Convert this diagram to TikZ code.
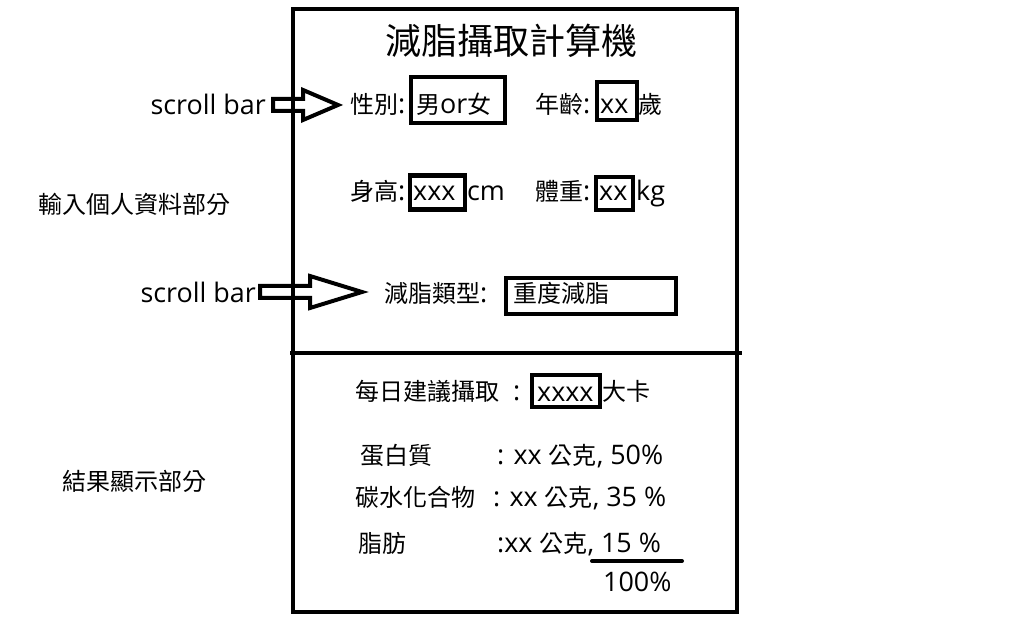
\documentclass[tikz,border=0pt]{standalone}
\usepackage{fontspec}
\setmainfont{Open Sans}[Scale=1.12]
\newfontfamily\cjk{Noto Sans CJK TC}
\begin{document}
\begin{tikzpicture}[x=1pt,y=-1pt,
  lbl/.style={font=\fontsize{24}{28}\selectfont, inner sep=0pt, anchor=base west},
  fld/.style={draw, line width=4.5pt, inner sep=0pt},
  thick4/.style={line width=4pt},
  blockarrow/.style={draw, line width=4pt, line join=miter}]
\useasboundingbox (0,0) rectangle (1018,617);
\fill[white] (0,0) rectangle (1018,617);
% frame
\draw[thick4] (293,9) rectangle (737,612);
\coordinate (dl) at (290,353);
\coordinate (dr) at (742,353);
\draw[thick4] (dl) -- (dr);
% title
\node[inner sep=0pt, anchor=base, font=\fontsize{36}{40}\selectfont\cjk] (title) at (511,55) {減脂攝取計算機};
% row 1
\node[lbl, anchor=base east] (sb1) at (266,115) {scroll bar};
\draw[blockarrow] (273,99) -- (303,99) -- (303,90) -- (338,105) -- (303,120) -- (303,111) -- (273,111) -- cycle;
\node[lbl] (sex) at (350,114) {{\cjk 性別}:};
\node[fld, minimum width=94pt, minimum height=46pt] (sexbox) at (458,100) {};
\node[lbl] (sexval) at (416,114) {{\cjk 男}or{\cjk 女}};
\node[lbl] (age) at (535,114) {{\cjk 年齡}:};
\node[fld, minimum width=40pt, minimum height=38pt] (agebox) at (617,101) {};
\node[lbl] (ageval) at (600,114) {xx};
\node[lbl] (sui) at (638,114) {\cjk 歲};
% row 2
\node[lbl] (ht) at (350,201) {{\cjk 身高}:};
\node[fld, minimum width=55pt, minimum height=34pt] (htbox) at (437.5,192.5) {};
\node[lbl] (htval) at (413,201) {xxx};
\node[lbl] (cm) at (467,201) {cm};
\node[lbl] (wt) at (535,201) {{\cjk 體重}:};
\node[fld, minimum width=37pt, minimum height=33pt] (wtbox) at (614.5,193.5) {};
\node[lbl] (wtval) at (599,201) {xx};
\node[lbl] (kg) at (636,201) {kg};
\node[lbl] (inp) at (38,214) {\cjk 輸入個人資料部分};
% row 3
\node[lbl, anchor=base east] (sb2) at (256,303) {scroll bar};
\draw[blockarrow] (260,286) -- (310,286) -- (310,276) -- (362,292) -- (310,308) -- (310,298) -- (260,298) -- cycle;
\node[lbl] (type) at (384,303) {{\cjk 減脂類型}:};
\node[fld, minimum width=170pt, minimum height=36pt] (typebox) at (591,296) {};
\node[lbl] (typeval) at (513,303) {\cjk 重度減脂};
% results
\node[lbl] (daily) at (355,401) {{\cjk 每日建議攝取}\hspace{14pt}:};
\node[fld, minimum width=68pt, minimum height=32pt] (kcalbox) at (566,391) {};
\node[lbl] (kcalval) at (537,402) {xxxx};
\node[lbl] (kcal) at (602,401) {\cjk 大卡};
\node[lbl] (res) at (62,490) {\cjk 結果顯示部分};
\node[lbl] (p1) at (360,465) {\cjk 蛋白質};
\node[lbl] (p2) at (497,465) {: xx {\cjk 公克}, 50\%};
\node[lbl] (c1) at (355,507) {\cjk 碳水化合物};
\node[lbl] (c2) at (493,507) {: xx {\cjk 公克}, 35 \%};
\node[lbl] (f1) at (358,552) {\cjk 脂肪};
\node[lbl] (f2) at (497,552) {:xx {\cjk 公克}, 15 \%};
\coordinate (ul) at (592,561);
\coordinate (ur) at (682,561);
\draw[thick4, line cap=round] (ul) -- (ur);
\node[lbl] (tot) at (603,591) {100\%};
\end{tikzpicture}
\end{document}
